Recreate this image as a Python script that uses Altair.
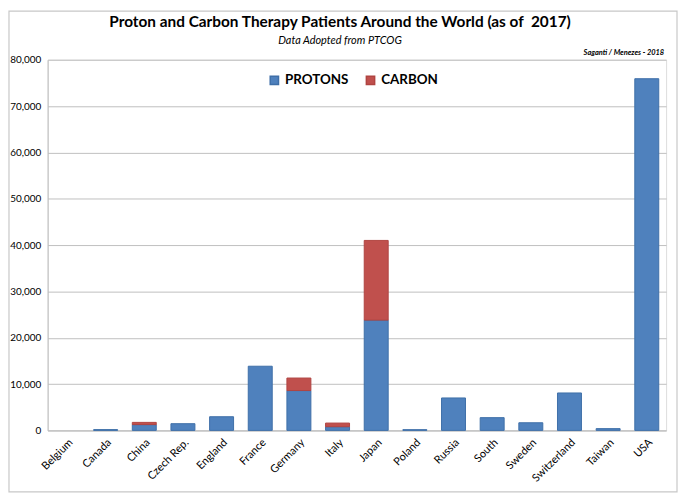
import altair as alt
import pandas as pd

countries = ["Belgium", "Canada", "China", "Czech Rep.", "England", "France",
             "Germany", "Italy", "Japan", "Poland", "Russia", "South", "Sweden",
             "Switzerland", "Taiwan", "USA"]
protons = [0, 170, 1250, 1450, 2950, 13850, 8600, 800, 23800, 160, 7000,
           2750, 1650, 8080, 380, 75900]
carbon = [0, 0, 480, 0, 0, 0, 2700, 780, 17200, 0, 0, 0, 0, 0, 0, 0]

rows = []
for c, p, k in zip(countries, protons, carbon):
    rows.append({"country": c, "type": "PROTONS", "value": p, "ord": 0})
    rows.append({"country": c, "type": "CARBON", "value": k, "ord": 1})
df = pd.DataFrame(rows)

FONT = "Lato"
W, H = 624, 374

bars = alt.Chart(df).transform_filter("datum.value > 0").mark_bar(strokeWidth=1).encode(
    x=alt.X("country:N", sort=countries, title=None,
            scale=alt.Scale(domain=countries, paddingInner=0.38, paddingOuter=0.19),
            axis=alt.Axis(labelAngle=-45, labelAlign="right", labelBaseline="top",
                          labelFontSize=11, labelFont=FONT, labelColor="#000000",
                          ticks=False, domainColor="#bfbfbf", labelPadding=6)),
    y=alt.Y("value:Q", stack="zero", title=None,
            scale=alt.Scale(domain=[0, 80000], nice=False),
            axis=alt.Axis(values=list(range(0, 80001, 10000)),
                          labelExpr="format(datum.value, ',')",
                          labelFontSize=10, labelFont=FONT, labelColor="#000000",
                          ticks=False, domainColor="#bfbfbf", gridColor="#bfbfbf",
                          labelPadding=7)),
    color=alt.Color("type:N", sort=["PROTONS", "CARBON"],
                    scale=alt.Scale(domain=["PROTONS", "CARBON"],
                                    range=["#4f81bd", "#c0504d"]),
                    legend=alt.Legend(title=None, orient="none", legendX=222, legendY=14,
                                      direction="horizontal", symbolType="square",
                                      symbolSize=70, labelFontSize=13.5, labelFont=FONT,
                                      labelFontWeight="bold", labelColor="#000000",
                                      columnPadding=14, labelOffset=4, padding=0)),
    stroke=alt.Stroke("type:N", scale=alt.Scale(domain=["PROTONS", "CARBON"],
                                                range=["#3f6fa8", "#b04441"]),
                      legend=None),
    order=alt.Order("ord:Q"),
)

texts = alt.Chart(alt.Data(values=[{"t": "Saganti / Menezes - 2018"}])).mark_text(
    align="right", baseline="bottom", fontSize=7.5, fontStyle="italic",
    fontWeight="bold", font=FONT, color="#000000"
).encode(x=alt.value(W - 2), y=alt.value(-3), text="t:N")

title = alt.Chart(alt.Data(values=[{"t": "Proton and Carbon Therapy Patients Around the World (as of\u00a0 2017)"}])).mark_text(
    align="center", baseline="alphabetic", fontSize=15.5, fontWeight="bold",
    font=FONT, color="#000000"
).encode(x=alt.value(295), y=alt.value(-33), text="t:N")

subtitle = alt.Chart(alt.Data(values=[{"t": "Data Adopted from PTCOG"}])).mark_text(
    align="center", baseline="alphabetic", fontSize=11, fontStyle="italic",
    font=FONT, color="#000000"
).encode(x=alt.value(295), y=alt.value(-16), text="t:N")

border = alt.Chart(alt.Data(values=[{"a": 1}])).mark_rect(
    fill="transparent", stroke="#c8c8c8", strokeWidth=1.2, clip=False
).encode(x=alt.value(-39), x2=alt.value(635), y=alt.value(-49), y2=alt.value(436))

chart = alt.layer(bars, texts, title, subtitle, border).properties(
    width=W, height=H,
    autosize=alt.AutoSizeParams(type="none"),
    padding={"left": 40, "top": 50, "right": 12, "bottom": 63},
).configure_view(stroke=None).configure(background="white")

chart.save("out.html", embed_options={"renderer": "svg", "actions": False})
